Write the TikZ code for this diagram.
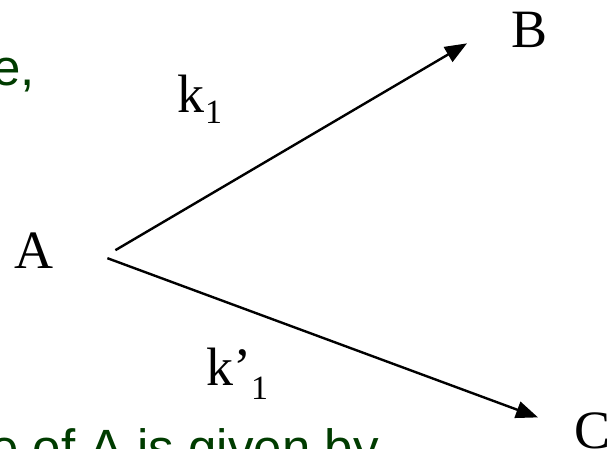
\documentclass[tikz,border=0pt]{standalone}
\usepackage{fontspec}
\setmainfont{Liberation Serif}
\newfontfamily\slidefont{Liberation Sans}
\definecolor{slidegreen}{RGB}{0, 60, 0}
\usepackage{tikz}
\usetikzlibrary{arrows.meta, positioning}

\newcommand{\sub}[2]{\kern#1\raisebox{-#2}{\fontsize{34}{34}\selectfont 1}}

\begin{document}
\begin{tikzpicture}[
        x=1pt, y=-1pt,
        species/.style={inner sep=0pt, anchor=base west, font=\fontsize{54}{60}\selectfont},
        rate/.style={inner sep=0pt, anchor=base west, font=\fontsize{54}{60}\selectfont},
        bodytext/.style={inner sep=0pt, anchor=base west, text=slidegreen, font=\slidefont\fontsize{51}{60}\selectfont},
        reaction/.style={line width=2.4pt, -{Triangle[length=22pt, width=17pt]}},
    ]
    \useasboundingbox (0,0) rectangle (612,448);

    % text of the slide, cut at the edges
    \node[bodytext] (textTop) at (-8,85) {e,};
    \node[bodytext] (textBottom) at (-10,465) {e of A is given by};

    % species
    \node[species] (A) at (14,268) {A};
    \node[species] (B) at (511,47) {B};
    \node[species] (C) at (574,448) {C};

    % rate constants
    \node[rate] (k1) at (177,112) {k\sub{1pt}{11pt}};
    \node[rate] (k1p) at (206,385) {k’\sub{0pt}{14pt}};

    % branches
    \draw[reaction] ([shift={(62,0)}]A.east) -- ([shift={(-44,-4)}]B.south west);
    \draw[reaction] ([shift={(54,8)}]A.east) -- ([shift={(-36,-13)}]C.west);
\end{tikzpicture}
\end{document}
